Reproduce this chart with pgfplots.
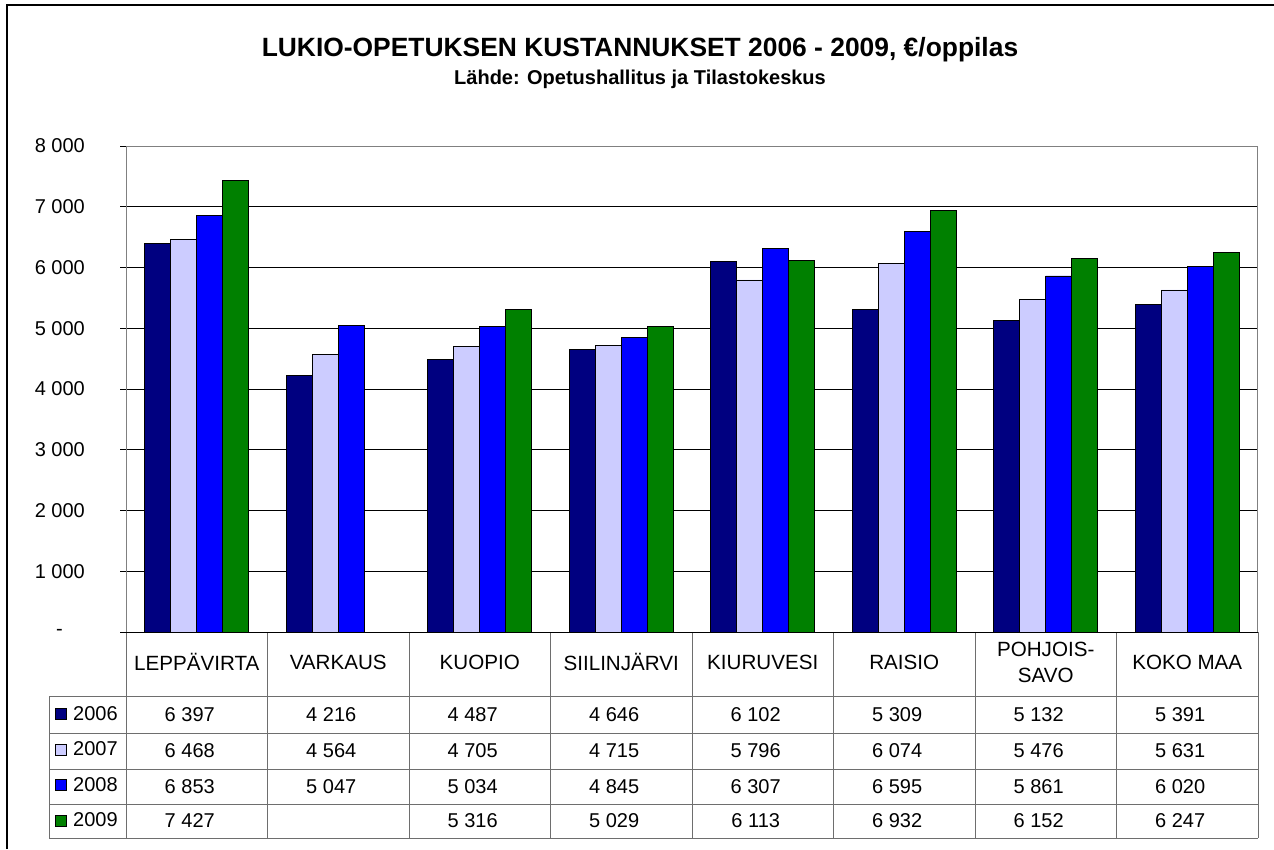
\documentclass[border=0pt]{standalone}
\usepackage{fontspec}
\setmainfont{Liberation Sans}
\usepackage{pgfplots}
\pgfplotsset{compat=1.18}
\usepackage{pgfplotstable}

\definecolor{c2006}{RGB}{0,0,128}
\definecolor{c2007}{RGB}{204,204,255}
\definecolor{c2008}{RGB}{0,0,255}
\definecolor{c2009}{RGB}{0,128,0}
\definecolor{tabline}{RGB}{110,110,110}

% euro per student, one column per year
\pgfplotstableread{
idx y2006 y2007 y2008 y2009
0   6397  6468  6853  7427
1   4216  4564  5047  nan
2   4487  4705  5034  5316
3   4646  4715  4845  5029
4   6102  5796  6307  6113
5   5309  6074  6595  6932
6   5132  5476  5861  6152
7   5391  5631  6020  6247
}\costs

\newcommand{\tfont}{\fontsize{20}{24}\selectfont}

\begin{document}
\begin{tikzpicture}
\useasboundingbox (0pt,0pt) rectangle (1274pt,-849pt);
\draw[line width=1.5pt] (7pt,-849pt) -- (7pt,-5pt) -- (1274pt,-5pt);
\node[font=\fontsize{26.4}{30}\selectfont\bfseries, anchor=base] at (640pt,-56pt)
  {LUKIO-OPETUKSEN KUSTANNUKSET 2006 - 2009, €/oppilas};
\node[font=\fontsize{20}{24}\selectfont\bfseries, anchor=base] at (640pt,-84pt)
  {Lähde: Opetushallitus ja Tilastokeskus};

\begin{axis}[
  at={(126pt,-632pt)}, anchor=south west,
  scale only axis, width=1132pt, height=486pt,
  xmin=-0.5, xmax=7.5, ymin=0, ymax=8000,
  enlargelimits=false, clip=false,
  axis line style={draw=gray, line width=1pt},
  ymajorgrids, grid style={black, line width=1pt},
  tick align=outside, major tick length=6pt,
  ytick pos=left,
  ytick={0,1000,...,8000},
  yticklabels={{-\kern22pt},{1 000},{2 000},{3 000},{4 000},{5 000},{6 000},{7 000},{8 000}},
  ytick style={black, line width=1pt},
  yticklabel style={anchor=east, inner sep=0pt, xshift=-35pt, font=\tfont},
  xtick={0,...,7},
  xticklabels={LEPPÄVIRTA,VARKAUS,KUOPIO,SIILINJÄRVI,KIURUVESI,RAISIO,{POHJOIS-\\SAVO},KOKO MAA},
  xtick style={draw=none},
  xticklabel style={anchor=center, align=center, inner sep=0pt, yshift=-24pt,
    font=\fontsize{20.6}{26}\selectfont},
  /pgf/number format/.cd, fixed, precision=0, 1000 sep={\ }, assume math mode=true,
  /pgfplots/.cd,
  every node near coord/.append style={anchor=center, xshift=-7pt, inner sep=0pt, font=\tfont, black},
  legend cell align=left,
  legend image code/.code={
    \path[draw=none, fill=none] (0pt,0pt) -- (24pt,0pt);
    \draw[#1, draw=black, line width=0.8pt] (6pt,-5.5pt) rectangle (17pt,5.5pt);},
  legend style={at={(-0.068,-0.1317)}, anchor=north west, draw=none, fill=none,
    inner sep=0pt, row sep=0pt, font=\tfont,
    nodes={inner sep=0pt, minimum height=35.5pt}},
]
\addplot[ybar, bar width=26pt, bar shift=-39pt, fill=c2006, draw=black, line width=0.8pt]
  table[x=idx, y=y2006] {\costs};
\addlegendentry{2006}
\addplot[ybar, bar width=26pt, bar shift=-13pt, fill=c2007, draw=black, line width=0.8pt]
  table[x=idx, y=y2007] {\costs};
\addlegendentry{2007}
\addplot[ybar, bar width=26pt, bar shift=13pt, fill=c2008, draw=black, line width=0.8pt]
  table[x=idx, y=y2008] {\costs};
\addlegendentry{2008}
\addplot[ybar, bar width=26pt, bar shift=39pt, fill=c2009, draw=black, line width=0.8pt]
  table[x=idx, y=y2009] {\costs};
\addlegendentry{2009}

% data table rows
\addplot[forget plot, draw=none, mark=none, nodes near coords, point meta=explicit]
  table[x=idx, y expr=\thisrow{y2006}*0-1358, meta=y2006] {\costs};
\addplot[forget plot, draw=none, mark=none, nodes near coords, point meta=explicit]
  table[x=idx, y expr=\thisrow{y2007}*0-1959, meta=y2007] {\costs};
\addplot[forget plot, draw=none, mark=none, nodes near coords, point meta=explicit]
  table[x=idx, y expr=\thisrow{y2008}*0-2543, meta=y2008] {\costs};
\addplot[forget plot, draw=none, mark=none, nodes near coords, point meta=explicit]
  table[x=idx, y expr=\thisrow{y2009}*0-3111, meta=y2009] {\costs};
\end{axis}

% table grid
\begin{scope}[tabline, line width=1pt]
\foreach \yy in {696,733,769,804,838} \draw (49pt,-\yy pt) -- (1258pt,-\yy pt);
\draw (49pt,-696pt) -- (49pt,-838pt);
\foreach \k in {0,...,8} \draw ({126pt+141.5pt*\k},-632pt) -- ({126pt+141.5pt*\k},-838pt);
\end{scope}
\draw[black, line width=1pt] (120pt,-632pt) -- (1258pt,-632pt);
\end{tikzpicture}
\end{document}
